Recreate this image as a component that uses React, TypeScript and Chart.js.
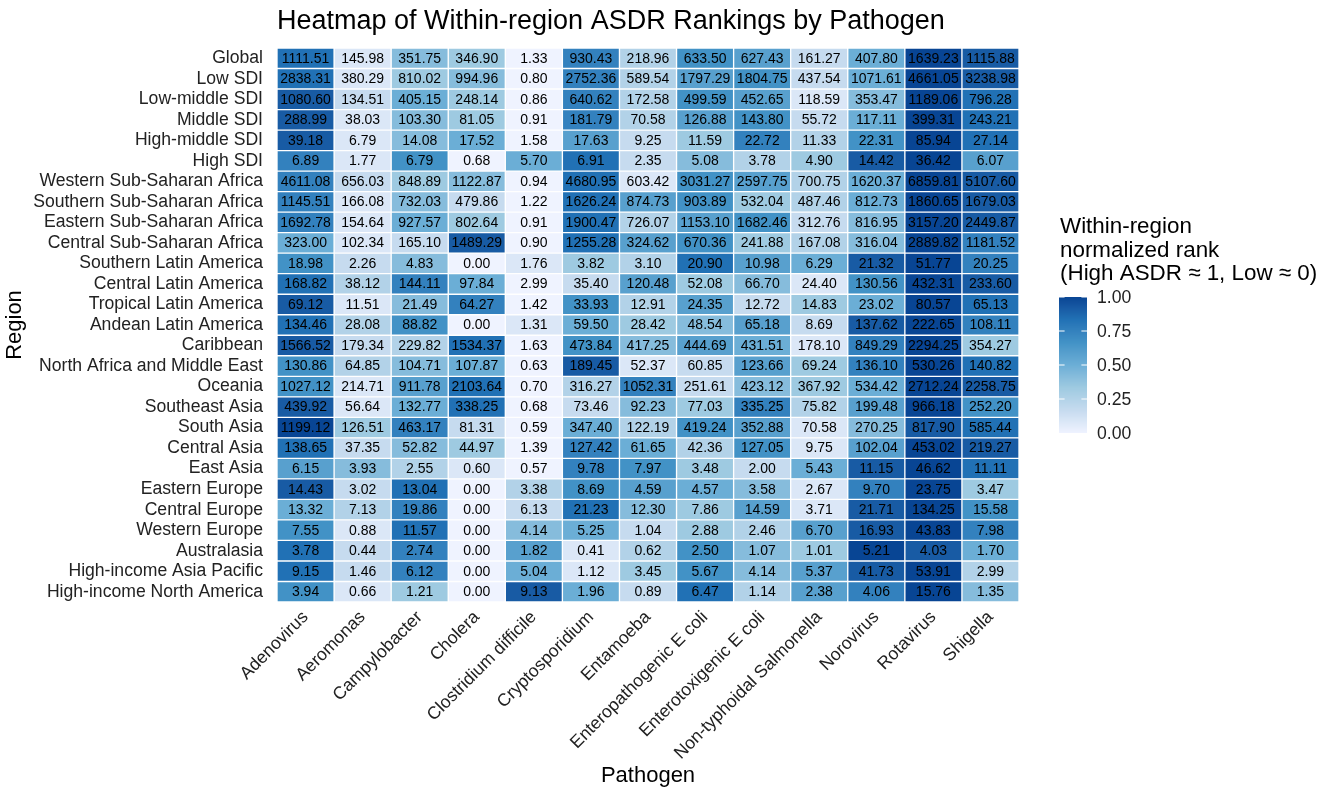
import React, { useEffect, useRef } from 'react';
import { Chart, registerables } from 'chart.js';

Chart.register(...registerables);

const regions: string[] = [
  'Global', 'Low SDI', 'Low-middle SDI', 'Middle SDI', 'High-middle SDI', 'High SDI',
  'Western Sub-Saharan Africa', 'Southern Sub-Saharan Africa', 'Eastern Sub-Saharan Africa',
  'Central Sub-Saharan Africa', 'Southern Latin America', 'Central Latin America',
  'Tropical Latin America', 'Andean Latin America', 'Caribbean', 'North Africa and Middle East',
  'Oceania', 'Southeast Asia', 'South Asia', 'Central Asia', 'East Asia', 'Eastern Europe',
  'Central Europe', 'Western Europe', 'Australasia', 'High-income Asia Pacific',
  'High-income North America',
];

const pathogens: string[] = [
  'Adenovirus', 'Aeromonas', 'Campylobacter', 'Cholera', 'Clostridium difficile',
  'Cryptosporidium', 'Entamoeba', 'Enteropathogenic E coli', 'Enterotoxigenic E coli',
  'Non-typhoidal Salmonella', 'Norovirus', 'Rotavirus', 'Shigella',
];

// ASDR values per pathogen, in region order
const adenovirus = [1111.51, 2838.31, 1080.60, 288.99, 39.18, 6.89, 4611.08, 1145.51, 1692.78, 323.00, 18.98, 168.82, 69.12, 134.46, 1566.52, 130.86, 1027.12, 439.92, 1199.12, 138.65, 6.15, 14.43, 13.32, 7.55, 3.78, 9.15, 3.94];
const aeromonas = [145.98, 380.29, 134.51, 38.03, 6.79, 1.77, 656.03, 166.08, 154.64, 102.34, 2.26, 38.12, 11.51, 28.08, 179.34, 64.85, 214.71, 56.64, 126.51, 37.35, 3.93, 3.02, 7.13, 0.88, 0.44, 1.46, 0.66];
const campylobacter = [351.75, 810.02, 405.15, 103.30, 14.08, 6.79, 848.89, 732.03, 927.57, 165.10, 4.83, 144.11, 21.49, 88.82, 229.82, 104.71, 911.78, 132.77, 463.17, 52.82, 2.55, 13.04, 19.86, 11.57, 2.74, 6.12, 1.21];
const cholera = [346.90, 994.96, 248.14, 81.05, 17.52, 0.68, 1122.87, 479.86, 802.64, 1489.29, 0.00, 97.84, 64.27, 0.00, 1534.37, 107.87, 2103.64, 338.25, 81.31, 44.97, 0.60, 0.00, 0.00, 0.00, 0.00, 0.00, 0.00];
const clostridiumDifficile = [1.33, 0.80, 0.86, 0.91, 1.58, 5.70, 0.94, 1.22, 0.91, 0.90, 1.76, 2.99, 1.42, 1.31, 1.63, 0.63, 0.70, 0.68, 0.59, 1.39, 0.57, 3.38, 6.13, 4.14, 1.82, 5.04, 9.13];
const cryptosporidium = [930.43, 2752.36, 640.62, 181.79, 17.63, 6.91, 4680.95, 1626.24, 1900.47, 1255.28, 3.82, 35.40, 33.93, 59.50, 473.84, 189.45, 316.27, 73.46, 347.40, 127.42, 9.78, 8.69, 21.23, 5.25, 0.41, 1.12, 1.96];
const entamoeba = [218.96, 589.54, 172.58, 70.58, 9.25, 2.35, 603.42, 874.73, 726.07, 324.62, 3.10, 120.48, 12.91, 28.42, 417.25, 52.37, 1052.31, 92.23, 122.19, 61.65, 7.97, 4.59, 12.30, 1.04, 0.62, 3.45, 0.89];
const enteropathogenicEColi = [633.50, 1797.29, 499.59, 126.88, 11.59, 5.08, 3031.27, 903.89, 1153.10, 670.36, 20.90, 52.08, 24.35, 48.54, 444.69, 60.85, 251.61, 77.03, 419.24, 42.36, 3.48, 4.57, 7.86, 2.88, 2.50, 5.67, 6.47];
const enterotoxigenicEColi = [627.43, 1804.75, 452.65, 143.80, 22.72, 3.78, 2597.75, 532.04, 1682.46, 241.88, 10.98, 66.70, 12.72, 65.18, 431.51, 123.66, 423.12, 335.25, 352.88, 127.05, 2.00, 3.58, 14.59, 2.46, 1.07, 4.14, 1.14];
const nonTyphoidalSalmonella = [161.27, 437.54, 118.59, 55.72, 11.33, 4.90, 700.75, 487.46, 312.76, 167.08, 6.29, 24.40, 14.83, 8.69, 178.10, 69.24, 367.92, 75.82, 70.58, 9.75, 5.43, 2.67, 3.71, 6.70, 1.01, 5.37, 2.38];
const norovirus = [407.80, 1071.61, 353.47, 117.11, 22.31, 14.42, 1620.37, 812.73, 816.95, 316.04, 21.32, 130.56, 23.02, 137.62, 849.29, 136.10, 534.42, 199.48, 270.25, 102.04, 11.15, 9.70, 21.71, 16.93, 5.21, 41.73, 4.06];
const rotavirus = [1639.23, 4661.05, 1189.06, 399.31, 85.94, 36.42, 6859.81, 1860.65, 3157.20, 2889.82, 51.77, 432.31, 80.57, 222.65, 2294.25, 530.26, 2712.24, 966.18, 817.90, 453.02, 46.62, 23.75, 134.25, 43.83, 4.03, 53.91, 15.76];
const shigella = [1115.88, 3238.98, 796.28, 243.21, 27.14, 6.07, 5107.60, 1679.03, 2449.87, 1181.52, 20.25, 233.60, 65.13, 108.11, 354.27, 140.82, 2258.75, 252.20, 585.44, 219.27, 11.11, 3.47, 15.58, 7.98, 1.70, 2.99, 1.35];

const seriesByPathogen: number[][] = [
  adenovirus, aeromonas, campylobacter, cholera, clostridiumDifficile, cryptosporidium,
  entamoeba, enteropathogenicEColi, enterotoxigenicEColi, nonTyphoidalSalmonella,
  norovirus, rotavirus, shigella,
];

const legendTicks = [0, 0.25, 0.5, 0.75, 1];
const bluesStops = ['#EFF3FF', '#C6DBEF', '#9ECAE1', '#6BAED6', '#4292C6', '#2171B5', '#084594'];

const FONT = "'Liberation Sans', Arial, Helvetica, sans-serif";

// ---- colour helpers (Lab interpolation like ggplot's gradient_n_pal) ----
function hexToRgb(h: string): number[] {
  const v = parseInt(h.slice(1), 16);
  return [(v >> 16) & 255, (v >> 8) & 255, v & 255];
}
function toLin(c: number) { c /= 255; return c <= 0.04045 ? c / 12.92 : Math.pow((c + 0.055) / 1.055, 2.4); }
function fromLin(c: number) { const v = c <= 0.0031308 ? 12.92 * c : 1.055 * Math.pow(c, 1 / 2.4) - 0.055; return Math.round(Math.min(1, Math.max(0, v)) * 255); }
function rgbToLab(rgb: number[]): number[] {
  const [R, G, B] = rgb.map(toLin);
  const X = (0.4124564 * R + 0.3575761 * G + 0.1804375 * B) / 0.95047;
  const Y = 0.2126729 * R + 0.7151522 * G + 0.0721750 * B;
  const Z = (0.0193339 * R + 0.1191920 * G + 0.9503041 * B) / 1.08883;
  const f = (t: number) => (t > 0.008856 ? Math.cbrt(t) : 7.787 * t + 16 / 116);
  const fx = f(X), fy = f(Y), fz = f(Z);
  return [116 * fy - 16, 500 * (fx - fy), 200 * (fy - fz)];
}
function labToRgb(lab: number[]): number[] {
  const [L, a, b] = lab;
  const fy = (L + 16) / 116, fx = fy + a / 500, fz = fy - b / 200;
  const inv = (t: number) => (t * t * t > 0.008856 ? t * t * t : (t - 16 / 116) / 7.787);
  const X = inv(fx) * 0.95047, Y = inv(fy), Z = inv(fz) * 1.08883;
  const R = 3.2404542 * X - 1.5371385 * Y - 0.4985314 * Z;
  const G = -0.9692660 * X + 1.8760108 * Y + 0.0415560 * Z;
  const B = 0.0556434 * X - 0.2040259 * Y + 1.0572252 * Z;
  return [fromLin(R), fromLin(G), fromLin(B)];
}
const labStops = bluesStops.map((h) => rgbToLab(hexToRgb(h)));
function palette(t: number): string {
  const n = labStops.length - 1;
  const s = Math.min(Math.max(t, 0), 1) * n;
  const i = Math.min(Math.floor(s), n - 1);
  const f = s - i;
  const a = labStops[i], b = labStops[i + 1];
  const rgb = labToRgb([a[0] + (b[0] - a[0]) * f, a[1] + (b[1] - a[1]) * f, a[2] + (b[2] - a[2]) * f]);
  return `rgb(${rgb[0]},${rgb[1]},${rgb[2]})`;
}

// within-region normalized rank (average rank for ties)
function normalizedRanks(row: number[]): number[] {
  const n = row.length;
  return row.map((v) => {
    const less = row.filter((w) => w < v).length;
    const eq = row.filter((w) => w === v).length;
    const rank = less + (eq + 1) / 2;
    return (rank - 1) / (n - 1);
  });
}
const rankMatrix: number[][] = regions.map((_, i) => normalizedRanks(seriesByPathogen.map((s) => s[i])));

const PANEL = { left: 277, top: 48, right: 1019, bottom: 602 };
const W = 1325, H = 797;

const overlayPlugin = {
  id: 'overlay',
  afterDatasetsDraw(chart: any) {
    const ctx = chart.ctx as CanvasRenderingContext2D;
    ctx.save();
    ctx.font = `14px ${FONT}`;
    ctx.fillStyle = '#000000';
    ctx.textAlign = 'center';
    ctx.textBaseline = 'middle';
    chart.data.datasets.forEach((_ds: any, j: number) => {
      const meta = chart.getDatasetMeta(j);
      meta.data.forEach((bar: any, i: number) => {
        const p = bar.getProps(['x', 'y', 'base'], true);
        ctx.fillText(seriesByPathogen[j][i].toFixed(2), (p.x + p.base) / 2, p.y + 0.5);
      });
    });
    ctx.restore();
  },
  afterDraw(chart: any) {
    const ctx = chart.ctx as CanvasRenderingContext2D;
    ctx.save();
    // title
    ctx.fillStyle = '#000000';
    ctx.font = `27px ${FONT}`;
    ctx.textAlign = 'left';
    ctx.textBaseline = 'alphabetic';
    ctx.fillText('Heatmap of Within-region ASDR Rankings by Pathogen', chart.chartArea.left, 29);

    // legend title
    ctx.font = `22.4px ${FONT}`;
    ctx.fillText('Within-region', 1060, 233);
    ctx.fillText('normalized rank', 1060, 256.5);
    ctx.fillText('(High ASDR \u2248 1, Low \u2248 0)', 1060, 280);

    // colour bar
    const bx = 1059, bw = 28, by0 = 297, by1 = 433;
    const steps = by1 - by0;
    for (let k = 0; k < steps; k++) {
      const t = 1 - (k + 0.5) / steps;
      ctx.fillStyle = palette(t);
      ctx.fillRect(bx, by0 + k, bw, 1.05);
    }
    ctx.strokeStyle = '#ffffff';
    ctx.lineWidth = 1;
    ctx.font = `17.6px ${FONT}`;
    ctx.textBaseline = 'middle';
    legendTicks.forEach((v) => {
      const y = by1 - v * (by1 - by0);
      if (v > 0) {
        ctx.beginPath();
        ctx.moveTo(bx, y); ctx.lineTo(bx + bw / 5, y);
        ctx.moveTo(bx + bw - bw / 5, y); ctx.lineTo(bx + bw, y);
        ctx.stroke();
      }
      ctx.fillStyle = '#222222';
      ctx.fillText(v.toFixed(2), 1097, y + 1);
    });
    ctx.restore();
  },
};

export default function App() {
  const canvasRef = useRef<HTMLCanvasElement | null>(null);

  useEffect(() => {
    const canvas = canvasRef.current;
    if (!canvas) return;
    Chart.defaults.font.family = FONT;

    const datasets = pathogens.map((p, j) => ({
      label: p,
      data: regions.map(() => [j, j + 1]),
      backgroundColor: regions.map((_, i) => palette(rankMatrix[i][j])),
      borderColor: '#ffffff',
      borderWidth: 1,
      borderSkipped: false,
      grouped: false,
      barPercentage: 1,
      categoryPercentage: 1,
    }));

    const chart = new Chart(canvas, {
      type: 'bar',
      data: { labels: regions, datasets: datasets as any },
      options: {
        indexAxis: 'y',
        animation: false,
        responsive: false,
        devicePixelRatio: 1,
        layout: { padding: { left: 0, top: PANEL.top, right: W - PANEL.right, bottom: 0 } },
        plugins: { legend: { display: false }, tooltip: { enabled: false }, title: { display: false } },
        scales: {
          y: {
            type: 'category',
            grid: { display: false, drawTicks: false },
            border: { display: false },
            ticks: { autoSkip: false, padding: 14, color: '#222222', font: { size: 17.6, family: FONT } },
            title: { display: true, text: 'Region', color: '#000000', font: { size: 22, family: FONT }, padding: { top: 2, bottom: 2 } },
            afterFit: (s: any) => { s.width = PANEL.left; },
          },
          x: {
            type: 'linear',
            min: 0,
            max: pathogens.length,
            grid: { display: false, drawTicks: false },
            border: { display: false },
            afterBuildTicks: (axis: any) => { axis.ticks = pathogens.map((_, j) => ({ value: j + 0.5 })); },
            ticks: {
              autoSkip: false,
              maxRotation: 45,
              minRotation: 45,
              padding: 5,
              color: '#222222',
              font: { size: 17.6, family: FONT },
              callback: (_v: any, idx: number) => pathogens[idx],
            },
            title: { display: true, text: 'Pathogen', color: '#000000', font: { size: 22, family: FONT }, padding: { top: 8, bottom: 8 } },
            afterFit: (s: any) => { s.height = H - PANEL.bottom; },
          },
        },
      },
      plugins: [overlayPlugin],
    });
    return () => chart.destroy();
  }, []);

  return (
    <div style={{ position: 'fixed', left: 0, top: 0, width: W, height: H, background: '#ffffff' }}>
      <canvas ref={canvasRef} width={W} height={H} style={{ display: 'block', width: W, height: H }} />
    </div>
  );
}
